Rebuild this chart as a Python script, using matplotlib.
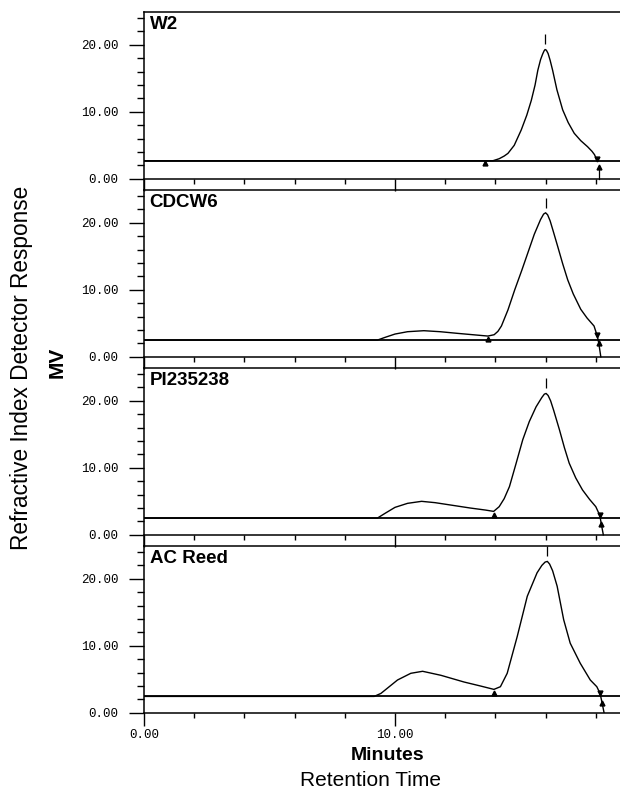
import matplotlib
matplotlib.use('Agg')
import matplotlib.pyplot as plt
from matplotlib.ticker import FixedLocator, NullFormatter

# sample names and integration baselines (mV)
samples = ['W2', 'CDCW6', 'PI235238', 'AC Reed']
baselines = [2.7, 2.5, 2.5, 2.45]

# traces (minutes, mV)
w2_t = [0, 13.9, 14.15, 14.35, 14.5, 14.75, 15.03, 15.25, 15.43, 15.58, 15.69, 15.8,
        15.88, 15.94, 15.98, 16.03, 16.1, 16.18, 16.28, 16.45, 16.68, 16.9, 17.14,
        17.4, 17.67, 17.85, 17.95, 18.04]
w2_mv = [2.7, 2.7, 3.0, 3.4, 3.8, 5.0, 7.3, 9.5, 11.7, 14.0, 16.2, 17.8,
         18.6, 19.1, 19.3, 19.2, 18.7, 17.7, 16.2, 13.3, 10.3, 8.4, 6.8,
         5.7, 4.8, 4.1, 3.6, 2.8]

cdcw6_t = [0, 9.3, 9.6, 10.0, 10.5, 11.15, 11.8, 12.5, 13.1, 13.7, 13.95, 14.1, 14.24,
           14.5, 14.77, 15.05, 15.3, 15.55, 15.8, 15.92, 16.0, 16.08, 16.18, 16.3,
           16.48, 16.68, 16.88, 17.1, 17.4, 17.65, 17.93, 18.06, 18.12, 18.2]
cdcw6_mv = [2.5, 2.5, 2.9, 3.4, 3.75, 3.9, 3.75, 3.5, 3.3, 3.1, 3.3, 3.8, 4.6,
            7.0, 10.0, 12.9, 15.6, 18.3, 20.5, 21.3, 21.5, 21.2, 20.3, 18.8,
            16.5, 13.9, 11.5, 9.4, 7.1, 5.8, 4.6, 3.1, 2.0, 0.0]

pi_t = [0, 9.3, 9.6, 10.0, 10.5, 11.06, 11.6, 12.3, 13.0, 13.6, 13.93, 14.15, 14.35,
        14.56, 14.82, 15.09, 15.35, 15.62, 15.85, 15.95, 16.02, 16.1, 16.2, 16.32,
        16.55, 16.75, 16.94, 17.2, 17.47, 17.75, 18.0, 18.16, 18.22, 18.3]
pi_mv = [2.5, 2.5, 3.2, 4.1, 4.7, 5.0, 4.8, 4.4, 4.0, 3.7, 3.5, 4.2, 5.4,
         7.2, 10.6, 14.2, 16.9, 19.1, 20.5, 21.0, 21.1, 20.8, 20.0, 18.6,
         15.7, 13.0, 10.7, 8.5, 6.7, 5.3, 4.2, 2.9, 1.6, 0.0]

acreed_t = [0, 9.17, 9.44, 10.1, 10.63, 11.1, 11.83, 12.75, 13.41, 13.94, 14.2, 14.47,
            14.87, 15.27, 15.66, 15.85, 15.98, 16.07, 16.16, 16.28, 16.46, 16.72,
            16.98, 17.38, 17.78, 18.04, 18.17, 18.25, 18.33]
acreed_mv = [2.45, 2.45, 2.9, 4.9, 5.9, 6.2, 5.6, 4.6, 4.0, 3.5, 3.9, 5.9,
             11.4, 17.4, 20.9, 22.0, 22.5, 22.6, 22.2, 21.2, 18.9, 13.9,
             10.4, 7.4, 4.9, 3.9, 2.9, 1.5, 0.0]

traces_t = [w2_t, cdcw6_t, pi_t, acreed_t]
traces_mv = [w2_mv, cdcw6_mv, pi_mv, acreed_mv]

# integration marks
start_t = [13.6, 13.7, 13.93, 13.94]
start_mv = [2.4, 2.6, 3.0, 2.9]
end_t = [18.04, 18.06, 18.16, 18.17]
end_mv = [2.9, 3.2, 3.0, 3.0]
peak_t = [15.98, 16.0, 16.02, 16.07]
peak_mv = [19.3, 21.5, 21.1, 22.6]
w2_arrow_t = 18.13
w2_arrow_mv = 1.8

W, H = 620, 799
fig = plt.figure(figsize=(W / 100, H / 100), dpi=100)

left_px = 144
px_per_min = 25.1
x_max = (W - left_px) / px_per_min
px_per_mv = 6.7
y_top = 24.9
y_bot = -1.7

tick_font = dict(family='Liberation Mono', size=9)

for i, name in enumerate(samples):
    top_px = 12 + 178 * i
    last = i == len(samples) - 1
    lo = 0 if last else y_bot
    h_px = (y_top - lo) * px_per_mv
    ax = fig.add_axes([left_px / W, 1 - (top_px + h_px) / H,
                       (W - left_px) / W, h_px / H])
    ax.set_xlim(0, x_max)
    ax.set_ylim(lo, y_top)

    for s in ax.spines.values():
        s.set_linewidth(1.1)
    ax.spines['right'].set_visible(False)
    ax.spines['bottom'].set_position(('data', 0))

    ax.axhline(baselines[i], color='black', lw=1.3, zorder=2)
    ax.plot(traces_t[i], traces_mv[i], color='black', lw=1.0, zorder=3)

    # marks
    ax.plot(peak_t[i], peak_mv[i] + 1.5, marker='|', ms=7, mew=0.9, color='black')
    ax.plot(start_t[i], start_mv[i], marker='^', ms=3.5, color='black', lw=0)
    ax.plot(end_t[i], end_mv[i], marker='v', ms=3.5, color='black', lw=0)
    if i == 0:
        ax.plot([w2_arrow_t, w2_arrow_t], [0, w2_arrow_mv], color='black', lw=0.9)
        ax.plot(w2_arrow_t, w2_arrow_mv, marker='^', ms=3.5, color='black')
    else:
        ax.plot(traces_t[i][-2], traces_mv[i][-2], marker='^', ms=3.5, color='black')

    # ticks
    ax.yaxis.set_major_locator(FixedLocator([0, 10, 20]))
    ax.yaxis.set_minor_locator(FixedLocator([2, 4, 6, 8, 12, 14, 16, 18, 22, 24]))
    ax.set_yticklabels(['0.00', '10.00', '20.00'], fontdict=tick_font)
    ax.tick_params(axis='y', which='major', direction='out', length=10.5, width=1.0, pad=8)
    ax.tick_params(axis='y', which='minor', direction='out', length=5.3, width=1.0)

    ax.xaxis.set_major_locator(FixedLocator([0, 10]))
    ax.xaxis.set_minor_locator(FixedLocator([2, 4, 6, 8, 12, 14, 16, 18]))
    ax.tick_params(axis='x', which='major', direction='out', length=9 if last else 8.5,
                   width=1.0, pad=3)
    ax.tick_params(axis='x', which='minor', direction='out', length=3.8, width=1.0)
    if last:
        ax.set_xticklabels(['0.00', '10.00'], fontdict=tick_font)
    else:
        ax.xaxis.set_major_formatter(NullFormatter())
    ax.patch.set_alpha(0)

    ax.annotate(name, xy=(0, 1), xycoords='axes fraction', xytext=(4, -3),
                textcoords='offset points', ha='left', va='top',
                fontsize=13.5, fontweight='bold', family='Liberation Sans')

fig.text(388 / W, 1 - 755 / H, 'Minutes', ha='center', va='center',
         fontsize=14, fontweight='bold', family='Liberation Sans')
fig.text(371 / W, 1 - 780 / H, 'Retention Time', ha='center', va='center',
         fontsize=15, family='Liberation Sans')
fig.text(57 / W, 1 - 362 / H, 'MV', ha='center', va='center', rotation=90,
         fontsize=15, fontweight='bold', family='Liberation Sans')
fig.text(22 / W, 1 - 368 / H, 'Refractive Index Detector Response', ha='center',
         va='center', rotation=90, fontsize=16.3, family='Liberation Sans')

fig.savefig('out.png', dpi=100, facecolor='white')
